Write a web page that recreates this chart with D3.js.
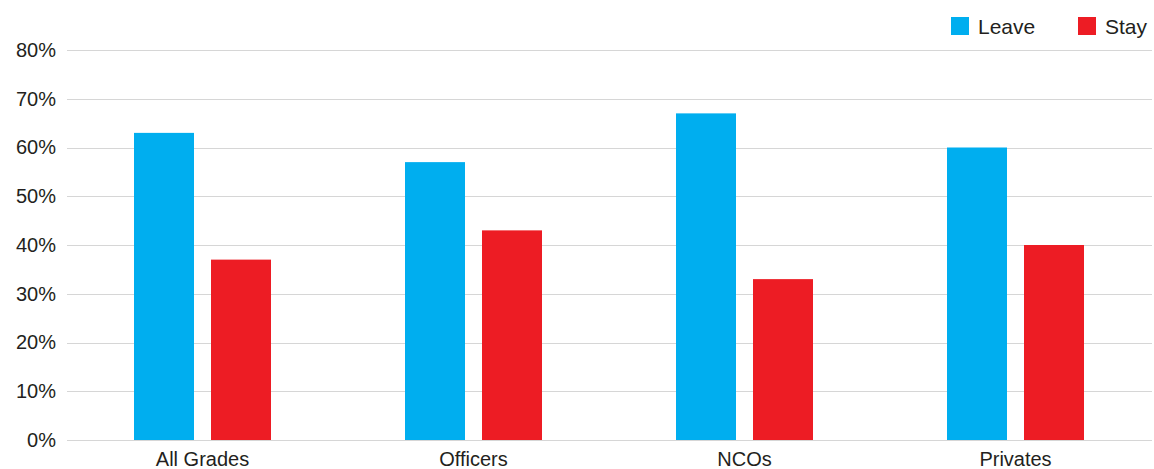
<!DOCTYPE html>
<html>
<head>
<meta charset="utf-8">
<script src="https://cdn.jsdelivr.net/npm/d3@7"></script>
<style>
  html, body { margin: 0; padding: 0; background: #fff; }
  svg { display: block; font-family: "Liberation Sans", Arial, Helvetica, sans-serif; }
</style>
</head>
<body>
<svg id="chart" width="1154" height="469"></svg>
<script>
// Share of respondents by grade who would leave or stay
const categories = ["All Grades", "Officers", "NCOs", "Privates"];
const seriesNames = ["Leave", "Stay"];
const leaveValues = [63, 57, 67, 60];
const stayValues = [37, 43, 33, 40];
const yTicks = [0, 10, 20, 30, 40, 50, 60, 70, 80];
const colors = ["#00aeef", "#ed1c24"];

const svg = d3.select("#chart");
const margin = { top: 50, right: 3, bottom: 29, left: 67 };
const width = 1154, height = 469;
const gridRight = 1152;

const x = d3.scaleBand()
  .domain(categories)
  .range([margin.left, width - margin.right])
  .paddingInner(0)
  .paddingOuter(0);

const y = d3.scaleLinear()
  .domain([0, 80])
  .range([height - margin.bottom, margin.top]);

const barWidth = 60;
const barGap = 17;

// gridlines
svg.append("g")
  .selectAll("line")
  .data(yTicks)
  .join("line")
  .attr("x1", margin.left)
  .attr("x2", gridRight)
  .attr("y1", d => Math.round(y(d)) + 0.5)
  .attr("y2", d => Math.round(y(d)) + 0.5)
  .attr("stroke", "#d6d6d6")
  .attr("stroke-width", 1.2);

// y-axis labels
const yAxis = d3.axisLeft(y)
  .tickValues(yTicks)
  .tickFormat(d => d + "%")
  .tickSize(0)
  .tickPadding(11);
const gy = svg.append("g")
  .attr("transform", `translate(${margin.left},0)`)
  .call(yAxis);
gy.select(".domain").remove();
gy.selectAll("text")
  .attr("font-size", 20)
  .attr("fill", "#231f20")
  .attr("font-family", "Liberation Sans, Arial, sans-serif");

// bars
const rows = categories.map((c, i) => ({ cat: c, values: [leaveValues[i], stayValues[i]] }));
const groups = svg.append("g")
  .selectAll("g")
  .data(rows)
  .join("g")
  .attr("transform", d => `translate(${x(d.cat) + x.bandwidth() / 2},0)`);

groups.selectAll("rect")
  .data(d => d.values.map((v, j) => ({ v, j })))
  .join("rect")
  .attr("x", d => d.j === 0 ? -(barWidth + barGap / 2) : barGap / 2)
  .attr("width", barWidth)
  .attr("y", d => y(d.v))
  .attr("height", d => y(0) - y(d.v))
  .attr("fill", d => colors[d.j]);

// baseline
svg.append("line")
  .attr("x1", margin.left)
  .attr("x2", gridRight)
  .attr("y1", Math.round(y(0)) + 0.5)
  .attr("y2", Math.round(y(0)) + 0.5)
  .attr("stroke", "#d6d6d6")
  .attr("stroke-width", 1.2);

// x-axis labels
const xAxis = d3.axisBottom(x).tickSize(0).tickPadding(12);
const gx = svg.append("g")
  .attr("transform", `translate(0,${y(0)})`)
  .call(xAxis);
gx.select(".domain").remove();
gx.selectAll("text")
  .attr("font-size", 20)
  .attr("fill", "#231f20")
  .attr("font-family", "Liberation Sans, Arial, sans-serif");

// legend
const legendX = [951, 1078];
const legend = svg.append("g")
  .selectAll("g")
  .data(seriesNames)
  .join("g")
  .attr("transform", (d, i) => `translate(${legendX[i]},17)`);
legend.append("rect")
  .attr("width", 18)
  .attr("height", 18)
  .attr("fill", (d, i) => colors[i]);
legend.append("text")
  .attr("x", 27)
  .attr("y", 17)
  .attr("font-size", 21)
  .attr("fill", "#231f20")
  .text(d => d);
</script>
</body>
</html>
